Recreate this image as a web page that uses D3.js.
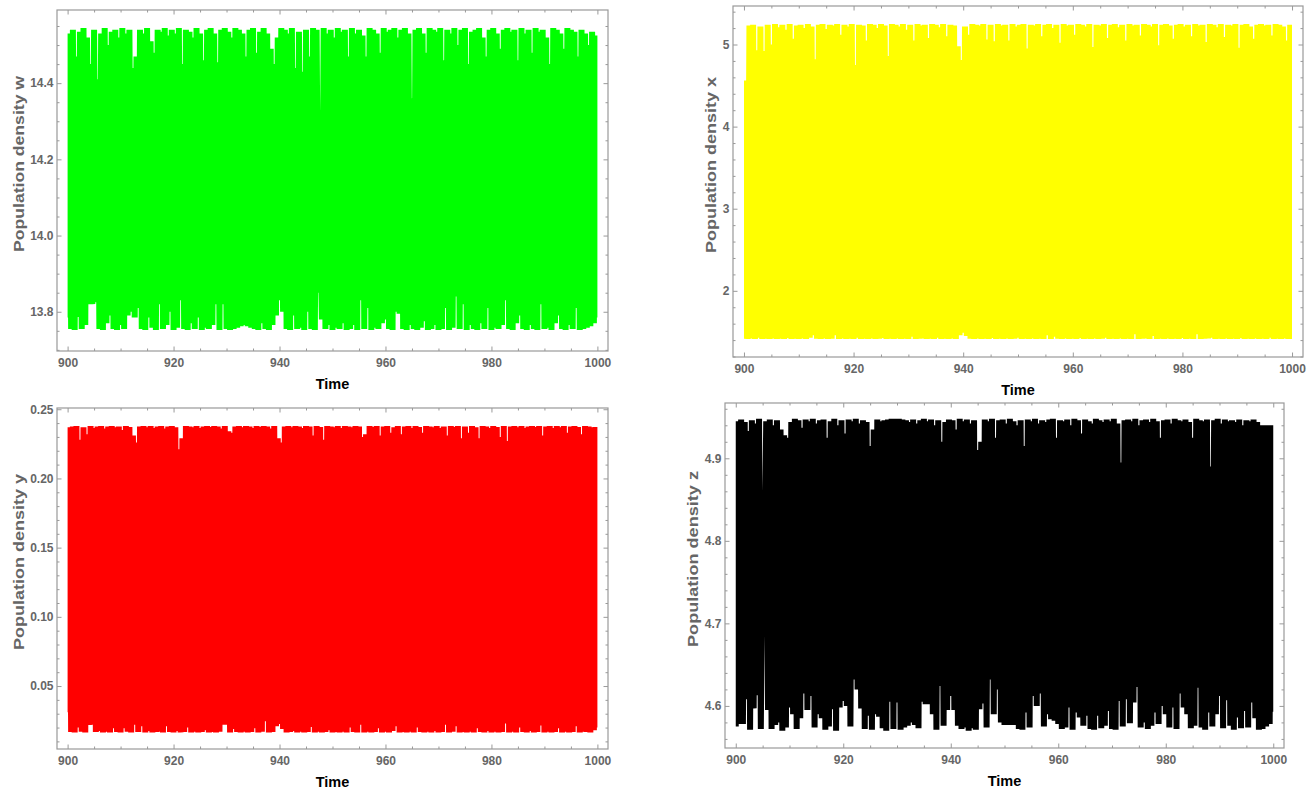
<!DOCTYPE html>
<html>
<head>
<meta charset="utf-8">
<title>Population densities, t = 900 to 1000</title>
<script src="https://cdn.jsdelivr.net/npm/d3@7"></script>
<style>
  html, body { margin: 0; padding: 0; background: #ffffff; }
  svg { display: block; }
  text { font-family: "Liberation Sans", Arial, sans-serif; font-weight: bold; }
</style>
</head>
<body>
<svg id="chart" width="1313" height="789"></svg>
<script>
// ---- data -------------------------------------------------------------
// Time window and its labelled ticks
const timeRange = [900, 1000];
const timeTicks = [900, 920, 940, 960, 980, 1000];

// Each series alternates low, high, low, high, ... on an even time grid
// from 900 to 1000: the lows are the troughs, the highs the peaks.
const wHigh = [
  14.53, 14.54, 14.47, 14.535, 14.545, 14.52, 14.45, 14.54, 14.41, 14.53,
  14.545, 14.50, 14.535, 14.54, 14.52, 14.545, 14.53, 14.54, 14.44, 14.47,
  14.54, 14.53, 14.545, 14.51, 14.48, 14.54, 14.535, 14.545, 14.525, 14.54,
  14.53, 14.545, 14.45, 14.54, 14.535, 14.52, 14.545, 14.53, 14.46, 14.54,
  14.545, 14.53, 14.455, 14.54, 14.545, 14.535, 14.52, 14.545, 14.54, 14.53,
  14.47, 14.54, 14.545, 14.48, 14.535, 14.545, 14.53, 14.49, 14.45, 14.52,
  14.545, 14.54, 14.53, 14.545, 14.44, 14.535, 14.43, 14.54, 14.47, 14.545,
  14.54, 14.05, 14.545, 14.53, 14.54, 14.52, 14.545, 14.535, 14.54, 14.47,
  14.545, 14.53, 14.54, 14.525, 14.47, 14.545, 14.54, 14.53, 14.48, 14.545,
  14.535, 14.54, 14.545, 14.52, 14.54, 14.545, 14.53, 14.36, 14.54, 14.545,
  14.53, 14.48, 14.545, 14.54, 14.535, 14.545, 14.46, 14.54, 14.53, 14.545,
  14.50, 14.54, 14.545, 14.45, 14.535, 14.54, 14.545, 14.52, 14.47, 14.54,
  14.545, 14.53, 14.49, 14.54, 14.545, 14.535, 14.54, 14.46, 14.545, 14.53,
  14.54, 14.48, 14.545, 14.535, 14.54, 14.52, 14.45, 14.545, 14.54, 14.53,
  14.49, 14.545, 14.54, 14.535, 14.47, 14.54, 14.53, 14.50, 14.535, 14.525
];
const wLow = [
  13.785, 13.755, 13.752, 13.786, 13.755, 13.765, 13.82, 13.82, 13.825, 13.755,
  13.752, 13.77, 13.79, 13.755, 13.752, 13.765, 13.755, 13.79, 13.80, 13.785,
  13.81, 13.755, 13.752, 13.785, 13.758, 13.752, 13.82, 13.755, 13.765, 13.80,
  13.752, 13.758, 13.83, 13.755, 13.752, 13.77, 13.755, 13.785, 13.752, 13.758,
  13.755, 13.765, 13.82, 13.752, 13.82, 13.755, 13.752, 13.755, 13.758, 13.762,
  13.765, 13.762, 13.758, 13.755, 13.752, 13.77, 13.755, 13.752, 13.765, 13.79,
  13.83, 13.80, 13.755, 13.752, 13.79, 13.755, 13.758, 13.752, 13.80, 13.755,
  13.752, 13.85, 13.78, 13.755, 13.765, 13.752, 13.758, 13.755, 13.77, 13.752,
  13.755, 13.765, 13.752, 13.83, 13.755, 13.81, 13.752, 13.758, 13.755, 13.77,
  13.78, 13.755, 13.752, 13.80, 13.795, 13.755, 13.752, 13.765, 13.755, 13.752,
  13.758, 13.775, 13.752, 13.755, 13.765, 13.752, 13.755, 13.81, 13.752, 13.758,
  13.84, 13.755, 13.82, 13.752, 13.765, 13.755, 13.752, 13.77, 13.755, 13.81,
  13.752, 13.758, 13.755, 13.765, 13.83, 13.755, 13.752, 13.77, 13.79, 13.755,
  13.752, 13.765, 13.755, 13.752, 13.82, 13.755, 13.758, 13.752, 13.77, 13.79,
  13.755, 13.752, 13.765, 13.755, 13.81, 13.752, 13.755, 13.758, 13.762, 13.77,
  13.785
];

const xHigh = [
  4.56, 5.23, 5.24, 4.93, 5.22, 4.92, 5.24, 5.00, 5.25, 5.21,
  5.24, 5.18, 5.25, 5.07, 5.23, 5.24, 5.20, 5.25, 5.22, 4.82,
  5.24, 5.25, 5.19, 5.24, 5.23, 5.25, 5.12, 5.24, 5.22, 5.25,
  4.75, 5.24, 5.23, 5.05, 5.25, 5.24, 5.20, 5.25, 5.23, 4.86,
  5.25, 5.24, 5.22, 5.25, 5.18, 5.24, 5.05, 5.25, 5.23, 5.24,
  5.08, 5.25, 5.24, 5.21, 5.25, 5.10, 5.24, 5.23, 4.98, 4.81,
  5.22, 5.12, 5.25, 5.24, 5.23, 5.25, 5.06, 5.24, 5.04, 5.25,
  5.23, 5.24, 5.05, 5.25, 5.22, 5.24, 5.25, 4.95, 5.24, 5.23,
  5.25, 5.10, 5.24, 5.25, 5.20, 5.24, 5.02, 5.25, 5.23, 5.24,
  5.12, 5.25, 5.24, 5.22, 5.25, 4.97, 5.24, 5.23, 5.25, 5.08,
  5.24, 5.25, 5.21, 5.24, 5.05, 5.25, 5.23, 5.24, 5.11, 5.25,
  5.24, 5.22, 5.25, 4.99, 5.24, 5.25, 5.23, 5.07, 5.24, 5.25,
  5.22, 5.24, 5.10, 5.25, 5.23, 5.24, 5.03, 5.25, 5.24, 5.21,
  5.25, 5.09, 5.24, 5.23, 5.25, 4.96, 5.24, 5.25, 5.22, 5.07,
  5.24, 5.25, 5.23, 5.24, 5.11, 5.25, 5.24, 5.22, 5.05, 5.24
];
const xLow = [
  1.415, 1.413, 1.42, 1.413, 1.43, 1.413, 1.415, 1.413, 1.42, 1.413,
  1.415, 1.413, 1.425, 1.413, 1.415, 1.413, 1.42, 1.413, 1.43, 1.46,
  1.415, 1.413, 1.42, 1.413, 1.415, 1.46, 1.413, 1.42, 1.413, 1.415,
  1.413, 1.43, 1.413, 1.415, 1.413, 1.42, 1.413, 1.415, 1.425, 1.413,
  1.415, 1.413, 1.42, 1.413, 1.415, 1.413, 1.44, 1.413, 1.415, 1.42,
  1.413, 1.415, 1.413, 1.43, 1.413, 1.415, 1.413, 1.42, 1.413, 1.46,
  1.49, 1.45, 1.415, 1.413, 1.42, 1.413, 1.415, 1.413, 1.425, 1.413,
  1.415, 1.413, 1.42, 1.413, 1.415, 1.43, 1.413, 1.415, 1.413, 1.42,
  1.413, 1.415, 1.413, 1.46, 1.413, 1.44, 1.415, 1.413, 1.42, 1.413,
  1.415, 1.413, 1.425, 1.413, 1.415, 1.413, 1.42, 1.413, 1.415, 1.43,
  1.413, 1.415, 1.413, 1.42, 1.413, 1.415, 1.413, 1.47, 1.413, 1.415,
  1.42, 1.413, 1.45, 1.413, 1.415, 1.413, 1.42, 1.413, 1.415, 1.413,
  1.425, 1.413, 1.415, 1.413, 1.47, 1.413, 1.415, 1.42, 1.43, 1.413,
  1.415, 1.413, 1.42, 1.413, 1.415, 1.413, 1.425, 1.413, 1.415, 1.413,
  1.42, 1.413, 1.415, 1.413, 1.43, 1.413, 1.415, 1.413, 1.42, 1.413,
  1.413
];

const yHigh = [
  0.237, 0.2375, 0.2378, 0.228, 0.237, 0.232, 0.2378, 0.2365, 0.2375, 0.2378,
  0.236, 0.2375, 0.2378, 0.237, 0.2375, 0.235, 0.2378, 0.2372, 0.231, 0.226,
  0.2375, 0.2378, 0.237, 0.2378, 0.2365, 0.2375, 0.2378, 0.236, 0.2375, 0.2378,
  0.237, 0.221, 0.229, 0.2378, 0.2375, 0.237, 0.2378, 0.2365, 0.2375, 0.2378,
  0.2372, 0.2378, 0.2375, 0.236, 0.2378, 0.234, 0.233, 0.2375, 0.2378, 0.237,
  0.2378, 0.2375, 0.2365, 0.2378, 0.2372, 0.2378, 0.2375, 0.236, 0.2378, 0.229,
  0.226, 0.2375, 0.2378, 0.237, 0.2378, 0.2375, 0.2365, 0.2378, 0.2375, 0.231,
  0.2378, 0.2372, 0.228, 0.2378, 0.2375, 0.237, 0.2378, 0.2365, 0.2378, 0.2375,
  0.237, 0.2378, 0.2375, 0.230, 0.232, 0.2378, 0.2372, 0.2378, 0.231, 0.2375,
  0.2378, 0.233, 0.237, 0.2378, 0.232, 0.2375, 0.2378, 0.2365, 0.2378, 0.2372,
  0.233, 0.2378, 0.2375, 0.237, 0.2378, 0.2365, 0.2375, 0.231, 0.2378, 0.2372,
  0.2378, 0.229, 0.2375, 0.233, 0.2378, 0.237, 0.229, 0.2378, 0.2375, 0.2365,
  0.2378, 0.2372, 0.230, 0.2378, 0.227, 0.2375, 0.2378, 0.237, 0.2378, 0.2365,
  0.2375, 0.2378, 0.2372, 0.2378, 0.231, 0.2375, 0.2378, 0.2365, 0.2378, 0.237,
  0.2378, 0.233, 0.2375, 0.2378, 0.2372, 0.232, 0.2378, 0.2375, 0.237, 0.2372
];
const yLow = [
  0.031, 0.0168, 0.0165, 0.020, 0.017, 0.0165, 0.0219, 0.022, 0.0168, 0.0175,
  0.0165, 0.017, 0.0165, 0.0195, 0.0168, 0.0165, 0.0195, 0.017, 0.0165, 0.022,
  0.0168, 0.021, 0.0165, 0.0175, 0.0165, 0.0168, 0.017, 0.0165, 0.021, 0.0168,
  0.0165, 0.0175, 0.0165, 0.0168, 0.020, 0.0165, 0.017, 0.0165, 0.0168, 0.018,
  0.0165, 0.0168, 0.0165, 0.017, 0.022, 0.022, 0.0165, 0.019, 0.0168, 0.0165,
  0.017, 0.0165, 0.0168, 0.0195, 0.0165, 0.017, 0.0245, 0.0165, 0.0168, 0.021,
  0.0225, 0.019, 0.0165, 0.0168, 0.0175, 0.0165, 0.017, 0.0165, 0.0168, 0.0205,
  0.0165, 0.017, 0.0165, 0.0168, 0.018, 0.0165, 0.0168, 0.0165, 0.017, 0.0165,
  0.020, 0.0168, 0.0165, 0.022, 0.0165, 0.017, 0.0165, 0.0168, 0.0195, 0.0165,
  0.017, 0.0165, 0.0175, 0.021, 0.0165, 0.0168, 0.0165, 0.017, 0.0165, 0.020,
  0.0168, 0.0165, 0.017, 0.0165, 0.0175, 0.0165, 0.0168, 0.022, 0.0165, 0.017,
  0.021, 0.0165, 0.0168, 0.0165, 0.017, 0.0165, 0.0195, 0.0168, 0.0165, 0.0175,
  0.0165, 0.017, 0.0165, 0.0168, 0.023, 0.0165, 0.017, 0.0165, 0.020, 0.0168,
  0.0165, 0.0175, 0.0165, 0.0168, 0.0215, 0.0165, 0.017, 0.0165, 0.0168, 0.0195,
  0.0165, 0.017, 0.0165, 0.0168, 0.021, 0.0165, 0.017, 0.0168, 0.0165, 0.018,
  0.020
];

const zHigh = [
  4.945, 4.947, 4.944, 4.933, 4.946, 4.942, 4.948, 4.86, 4.945, 4.947,
  4.94, 4.946, 4.935, 4.928, 4.925, 4.944, 4.948, 4.946, 4.937, 4.947,
  4.945, 4.948, 4.942, 4.946, 4.947, 4.925, 4.945, 4.948, 4.94, 4.946,
  4.93, 4.947, 4.945, 4.948, 4.942, 4.946, 4.944, 4.915, 4.935, 4.947,
  4.945, 4.946, 4.947, 4.948, 4.948, 4.948, 4.947, 4.946, 4.944, 4.947,
  4.942, 4.946, 4.948, 4.945, 4.947, 4.94, 4.946, 4.92, 4.944, 4.947,
  4.946, 4.935, 4.948, 4.945, 4.947, 4.942, 4.946, 4.91, 4.92, 4.947,
  4.945, 4.948, 4.925, 4.946, 4.947, 4.942, 4.948, 4.945, 4.94, 4.946,
  4.915, 4.947, 4.945, 4.948, 4.942, 4.946, 4.944, 4.947, 4.948, 4.925,
  4.946, 4.945, 4.947, 4.94, 4.948, 4.946, 4.93, 4.947, 4.945, 4.942,
  4.948, 4.946, 4.944, 4.947, 4.945, 4.948, 4.942, 4.895, 4.946, 4.947,
  4.945, 4.948, 4.94, 4.946, 4.947, 4.944, 4.948, 4.945, 4.925, 4.946,
  4.947, 4.942, 4.948, 4.946, 4.945, 4.947, 4.944, 4.925, 4.948, 4.946,
  4.945, 4.947, 4.89, 4.946, 4.948, 4.942, 4.947, 4.945, 4.946, 4.944,
  4.947, 4.94, 4.946, 4.945, 4.947, 4.944, 4.94, 4.94, 4.94, 4.94
];
const zLow = [
  4.575, 4.578, 4.578, 4.608, 4.571, 4.597, 4.613, 4.572, 4.745, 4.595,
  4.572, 4.577, 4.58, 4.570, 4.574, 4.598, 4.59, 4.572, 4.585, 4.615,
  4.595, 4.612, 4.574, 4.59, 4.585, 4.571, 4.575, 4.596, 4.570, 4.598,
  4.606, 4.60, 4.575, 4.632, 4.62, 4.597, 4.572, 4.588, 4.571, 4.59,
  4.587, 4.573, 4.570, 4.605, 4.572, 4.604, 4.571, 4.574, 4.576, 4.58,
  4.577, 4.573, 4.605, 4.602, 4.602, 4.59, 4.571, 4.624, 4.576, 4.595,
  4.612, 4.595, 4.576, 4.572, 4.574, 4.570, 4.573, 4.571, 4.596, 4.603,
  4.574, 4.632, 4.59, 4.62, 4.58, 4.577, 4.577, 4.577, 4.577, 4.572,
  4.571, 4.592, 4.574, 4.612, 4.60, 4.615, 4.575, 4.59, 4.584, 4.582,
  4.578, 4.572, 4.574, 4.598, 4.571, 4.592, 4.586, 4.576, 4.588, 4.572,
  4.571, 4.588, 4.573, 4.576, 4.594, 4.572, 4.571, 4.606, 4.575, 4.608,
  4.579, 4.604, 4.623, 4.574, 4.58, 4.572, 4.576, 4.592, 4.578, 4.60,
  4.59, 4.574, 4.598, 4.572, 4.615, 4.598, 4.59, 4.573, 4.576, 4.622,
  4.574, 4.571, 4.592, 4.575, 4.59, 4.612, 4.573, 4.607, 4.576, 4.571,
  4.586, 4.573, 4.594, 4.574, 4.604, 4.585, 4.571, 4.572, 4.575, 4.578,
  4.593
];

// Labelled y ticks of each panel
const wTicks = [13.8, 14.0, 14.2, 14.4];
const xTicks = [2, 3, 4, 5];
const yTicks = [0.05, 0.10, 0.15, 0.20, 0.25];
const zTicks = [4.6, 4.7, 4.8, 4.9];

// ---- layout -----------------------------------------------------------
const panels = [
  { title: "Population density w", color: "#00ff00", high: wHigh, low: wLow,
    box: { x0: 57, x1: 608, y0: 10, y1: 351 }, yDomain: [13.697, 14.592],
    ticks: wTicks, format: d3.format(".1f"), minorStep: 0.05 },
  { title: "Population density x", color: "#ffff00", high: xHigh, low: xLow,
    box: { x0: 733, x1: 1303, y0: 6, y1: 357 }, yDomain: [1.194, 5.469],
    ticks: xTicks, format: d3.format("d"), minorStep: 0.2 },
  { title: "Population density y", color: "#ff0000", high: yHigh, low: yLow,
    box: { x0: 57, x1: 608, y0: 408, y1: 749 }, yDomain: [0.0045, 0.2509],
    ticks: yTicks, format: d3.format(".2f"), minorStep: 0.01 },
  { title: "Population density z", color: "#000000", high: zHigh, low: zLow,
    box: { x0: 725, x1: 1284, y0: 403, y1: 748 }, yDomain: [4.549, 4.967],
    ticks: zTicks, format: d3.format(".1f"), minorStep: 0.02 }
];

const FRAME = "#999999";
const LABEL = "#666666";
const MAJOR = 4.5, MINOR = 2.5;
const LINE_WIDTH = 6;

const svg = d3.select("#chart");

// Multiples of `step` inside the domain that are not major ticks
function minorValues(domain, step, majors) {
  const lo = Math.ceil(Math.min(...domain) / step - 1e-9);
  const hi = Math.floor(Math.max(...domain) / step + 1e-9);
  const out = [];
  for (let k = lo; k <= hi; k++) {
    const v = +(k * step).toFixed(6);
    if (!majors.some(m => Math.abs(m - v) < step * 1e-3)) out.push(v);
  }
  return out;
}

function styleAxis(g) {
  g.select(".domain").remove();
  g.attr("color", FRAME)
   .attr("font-family", "'Liberation Sans', Arial, sans-serif")
   .attr("font-size", 12)
   .attr("font-weight", "bold");
  g.selectAll(".tick line").attr("stroke-width", 1);
  g.selectAll(".tick text").attr("fill", LABEL);
}

panels.forEach((p, i) => {
  const b = p.box;
  const x = d3.scaleLinear().domain([898, 1002]).range([b.x0, b.x1]);
  const y = d3.scaleLinear().domain(p.yDomain).range([b.y1, b.y0]);
  const g = svg.append("g").attr("class", "panel");

  const clipId = "plot-clip-" + i;
  svg.append("clipPath").attr("id", clipId)
    .append("rect")
    .attr("x", x(timeRange[0])).attr("y", b.y0)
    .attr("width", x(timeRange[1]) - x(timeRange[0]))
    .attr("height", b.y1 - b.y0);

  // interleave troughs and peaks on the even time grid
  const n = p.low.length + p.high.length;
  const dt = (timeRange[1] - timeRange[0]) / (n - 1);
  const points = d3.range(n).map(k => [
    timeRange[0] + k * dt,
    k % 2 === 0 ? p.low[k / 2] : p.high[(k - 1) / 2]
  ]);

  g.append("path")
    .datum(points)
    .attr("clip-path", `url(#${clipId})`)
    .attr("fill", "none")
    .attr("stroke", p.color)
    .attr("stroke-width", LINE_WIDTH)
    .attr("stroke-linejoin", "bevel")
    .attr("d", d3.line().x(d => x(d[0])).y(d => y(d[1])));

  // frame
  g.append("rect")
    .attr("x", b.x0).attr("y", b.y0)
    .attr("width", b.x1 - b.x0).attr("height", b.y1 - b.y0)
    .attr("fill", "none").attr("stroke", FRAME).attr("stroke-width", 1.2);

  const timeMinor = minorValues(timeRange, 5, timeTicks);
  const yMinor = minorValues(p.yDomain, p.minorStep, p.ticks);

  // bottom: labelled majors + minors
  g.append("g").attr("transform", `translate(0,${b.y1})`)
    .call(d3.axisBottom(x).tickValues(timeTicks).tickFormat(d3.format("d"))
      .tickSize(-MAJOR).tickSizeOuter(0).tickPadding(7.5))
    .call(styleAxis);
  g.append("g").attr("transform", `translate(0,${b.y1})`)
    .call(d3.axisBottom(x).tickValues(timeMinor).tickFormat("")
      .tickSize(-MINOR).tickSizeOuter(0))
    .call(styleAxis);
  // top: ticks only
  g.append("g").attr("transform", `translate(0,${b.y0})`)
    .call(d3.axisTop(x).tickValues(timeTicks).tickFormat("").tickSize(-MAJOR).tickSizeOuter(0))
    .call(styleAxis);
  g.append("g").attr("transform", `translate(0,${b.y0})`)
    .call(d3.axisTop(x).tickValues(timeMinor).tickFormat("").tickSize(-MINOR).tickSizeOuter(0))
    .call(styleAxis);

  // left: labelled majors + minors
  const left = g.append("g").attr("transform", `translate(${b.x0},0)`)
    .call(d3.axisLeft(y).tickValues(p.ticks).tickFormat(p.format)
      .tickSize(-MAJOR).tickSizeOuter(0).tickPadding(3.5))
    .call(styleAxis);
  g.append("g").attr("transform", `translate(${b.x0},0)`)
    .call(d3.axisLeft(y).tickValues(yMinor).tickFormat("").tickSize(-MINOR).tickSizeOuter(0))
    .call(styleAxis);
  // right: ticks only
  g.append("g").attr("transform", `translate(${b.x1},0)`)
    .call(d3.axisRight(y).tickValues(p.ticks).tickFormat("").tickSize(-MAJOR).tickSizeOuter(0))
    .call(styleAxis);
  g.append("g").attr("transform", `translate(${b.x1},0)`)
    .call(d3.axisRight(y).tickValues(yMinor).tickFormat("").tickSize(-MINOR).tickSizeOuter(0))
    .call(styleAxis);

  // axis titles
  g.append("text")
    .attr("x", (b.x0 + b.x1) / 2).attr("y", b.y1 + 37.5)
    .attr("text-anchor", "middle")
    .attr("font-size", 14.5)
    .attr("fill", "#000000")
    .text("Time");

  let labelLeft = 0;
  left.selectAll(".tick text").each(function () {
    labelLeft = Math.min(labelLeft, this.getBBox().x);
  });
  const titleX = b.x0 + labelLeft - 6.5;
  const titleY = (b.y0 + b.y1) / 2 - 16.5;
  g.append("text")
    .attr("transform", `translate(${titleX},${titleY}) rotate(-90)`)
    .attr("text-anchor", "middle")
    .attr("font-size", 15)
    .attr("textLength", 176)
    .attr("lengthAdjust", "spacingAndGlyphs")
    .attr("fill", LABEL)
    .text(p.title);
});
</script>
</body>
</html>
